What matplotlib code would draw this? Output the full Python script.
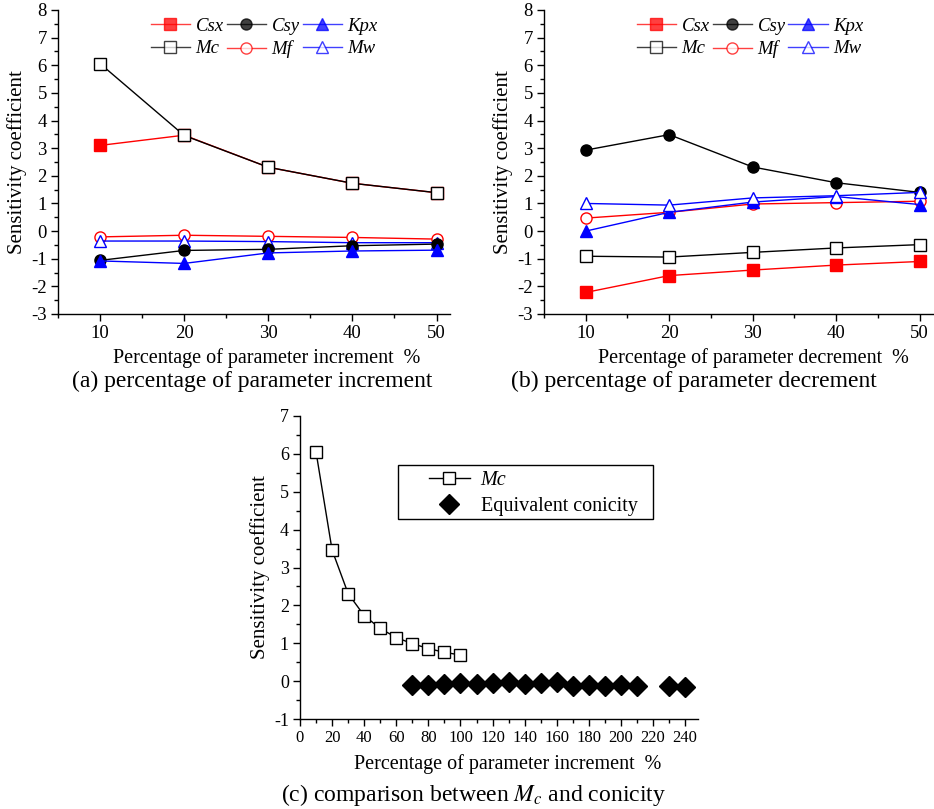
import matplotlib
matplotlib.use("Agg")
import matplotlib.pyplot as plt
from matplotlib.patches import Rectangle
from matplotlib.ticker import MultipleLocator

plt.rcParams['font.family'] = ['Liberation Serif', 'DejaVu Serif']
plt.rcParams['mathtext.fontset'] = 'stix'
plt.rcParams['axes.unicode_minus'] = False

# (a) parameter increment
pct = [10, 20, 30, 40, 50]
inc_csx = [3.10, 3.47, 2.31, 1.73, 1.39]
inc_csy = [-1.06, -0.70, -0.66, -0.53, -0.47]
inc_kpx = [-1.08, -1.17, -0.79, -0.72, -0.69]
inc_mc = [6.06, 3.46, 2.31, 1.73, 1.39]
inc_mf = [-0.21, -0.15, -0.19, -0.23, -0.29]
inc_mw = [-0.36, -0.36, -0.38, -0.42, -0.42]

# (b) parameter decrement
dec_csx = [-2.22, -1.61, -1.41, -1.23, -1.10]
dec_csy = [2.93, 3.49, 2.32, 1.75, 1.40]
dec_kpx = [0.0, 0.68, 1.05, 1.25, 0.96]
dec_mc = [-0.91, -0.94, -0.77, -0.61, -0.49]
dec_mf = [0.47, 0.68, 0.98, 1.03, 1.08]
dec_mw = [1.00, 0.94, 1.20, 1.28, 1.40]

# (c) Mc vs equivalent conicity
mc_pct = [10, 20, 30, 40, 50, 60, 70, 80, 90, 100]
mc_val = [6.05, 3.46, 2.31, 1.73, 1.39, 1.15, 0.99, 0.86, 0.76, 0.69]
con_pct = [70, 80, 90, 100, 110, 120, 130, 140, 150, 160, 170, 180, 190, 200, 210, 230, 240]
con_val = [-0.09, -0.10, -0.08, -0.04, -0.07, -0.05, -0.03, -0.08, -0.05, -0.03,
           -0.13, -0.11, -0.13, -0.09, -0.13, -0.13, -0.16]

W, H = 934, 809
fig = plt.figure(figsize=(W / 100, H / 100), dpi=100)


def px_axes(left, top, right, bottom):
    return fig.add_axes([left / W, 1 - bottom / H, (right - left) / W, (bottom - top) / H])


def style(ax, xmaj, xmin, ymaj, ymin, tsize):
    for s in ('top', 'right'):
        ax.spines[s].set_visible(False)
    for s in ('left', 'bottom'):
        ax.spines[s].set_linewidth(1.0)
    ax.xaxis.set_major_locator(MultipleLocator(xmaj))
    ax.xaxis.set_minor_locator(MultipleLocator(xmin))
    ax.yaxis.set_major_locator(MultipleLocator(ymaj))
    ax.yaxis.set_minor_locator(MultipleLocator(ymin))
    ax.tick_params(which='major', direction='out', length=5, width=1, labelsize=tsize, pad=3)
    ax.tick_params(which='minor', direction='out', length=3, width=1)
    ax.set_ylabel('Sensitivity coefficient', fontsize=15, labelpad=3)


ms = 8
series = [
    ('Csx', 's', 'red', 'red'),
    ('Mc', 's', 'black', 'white'),
    ('Csy', 'o', 'black', 'black'),
    ('Mf', 'o', 'red', 'white'),
    ('Kpx', '^', 'blue', 'blue'),
    ('Mw', '^', 'blue', 'white'),
]


def draw_panel(ax, data, order, anchor_x):
    handles = {}
    for name in order:
        marker, col, face = [(m, c, f) for n, m, c, f in series if n == name][0]
        size = ms + 1 if marker == '^' else ms
        h, = ax.plot(pct, data[name], marker=marker, color=col, markerfacecolor=face,
                     markeredgecolor=col, markersize=size, lw=1.0, markeredgewidth=1.0,
                     label=name)
        handles[name] = h
    # legend laid out column-wise: 3 columns, 2 rows
    leg_order = ['Csx', 'Mc', 'Csy', 'Mf', 'Kpx', 'Mw']
    leg = ax.legend([handles[n] for n in leg_order], leg_order, ncol=3, frameon=False,
                    loc='upper center', bbox_to_anchor=(anchor_x, 1.0),
                    prop={'style': 'italic', 'size': 13.5}, handlelength=2.1,
                    handletextpad=0.3, columnspacing=0.15, labelspacing=0.3,
                    borderaxespad=0.0)
    for lh in leg.get_lines():
        lh.set_alpha(0.75)
    ax.set_xlim(5, 51.6)
    ax.set_ylim(-3, 8)
    style(ax, 10, 5, 1, 0.5, 13.5)


ax_a = px_axes(58, 10, 450, 314)
draw_panel(ax_a, {'Csx': inc_csx, 'Mc': inc_mc, 'Csy': inc_csy, 'Mf': inc_mf,
                  'Kpx': inc_kpx, 'Mw': inc_mw},
           ['Csx', 'Mc', 'Mf', 'Mw', 'Csy', 'Kpx'], 0.526)

ax_b = px_axes(544, 10, 933, 314)
draw_panel(ax_b, {'Csx': dec_csx, 'Mc': dec_mc, 'Csy': dec_csy, 'Mf': dec_mf,
                  'Kpx': dec_kpx, 'Mw': dec_mw},
           ['Csx', 'Mc', 'Csy', 'Mf', 'Kpx', 'Mw'], 0.53)

ax_c = px_axes(300, 416, 698, 719)
ax_c.plot(mc_pct, mc_val, marker='s', color='black', markerfacecolor='white',
          markersize=ms, lw=1.0, label='Mc')
ax_c.plot(con_pct, con_val, marker='D', color='black', linestyle='none',
          markersize=10, label='Equivalent conicity')
ax_c.set_xlim(0, 248)
ax_c.set_ylim(-1, 7)
style(ax_c, 20, 10, 1, 0.5, 13)
ax_c.tick_params(axis='x', which='major', labelsize=12)

# legend box drawn separately so the entries sit with a wide left margin
ax_c.add_patch(Rectangle((0.246, 0.660), 0.641, 0.178, transform=ax_c.transAxes,
                         facecolor='white', edgecolor='black', lw=1.0, zorder=4))
leg_c = ax_c.legend(loc='upper left', bbox_to_anchor=(0.325, 0.818), fontsize=14.5,
                    frameon=False, borderpad=0, borderaxespad=0, handlelength=2.0,
                    handletextpad=0.55, labelspacing=0.35)
leg_c.set_zorder(5)
leg_c.get_texts()[0].set_fontstyle('italic')

# axis titles and panel captions
fig.text(267 / W, 1 - 358 / H, 'Percentage of parameter increment  %',
         ha='center', va='center', fontsize=14.5)
fig.text(252 / W, 1 - 381 / H, '(a) percentage of parameter increment',
         ha='center', va='center', fontsize=17)
fig.text(753 / W, 1 - 358 / H, 'Percentage of parameter decrement  %',
         ha='center', va='center', fontsize=14.5)
fig.text(694 / W, 1 - 381 / H, '(b) percentage of parameter decrement',
         ha='center', va='center', fontsize=17)
fig.text(508 / W, 1 - 764 / H, 'Percentage of parameter increment  %',
         ha='center', va='center', fontsize=14.5)
fig.text(473 / W, 1 - 795 / H, '(c) comparison between $M_c$ and conicity',
         ha='center', va='center', fontsize=17)

fig.savefig('out.png', dpi=100)
